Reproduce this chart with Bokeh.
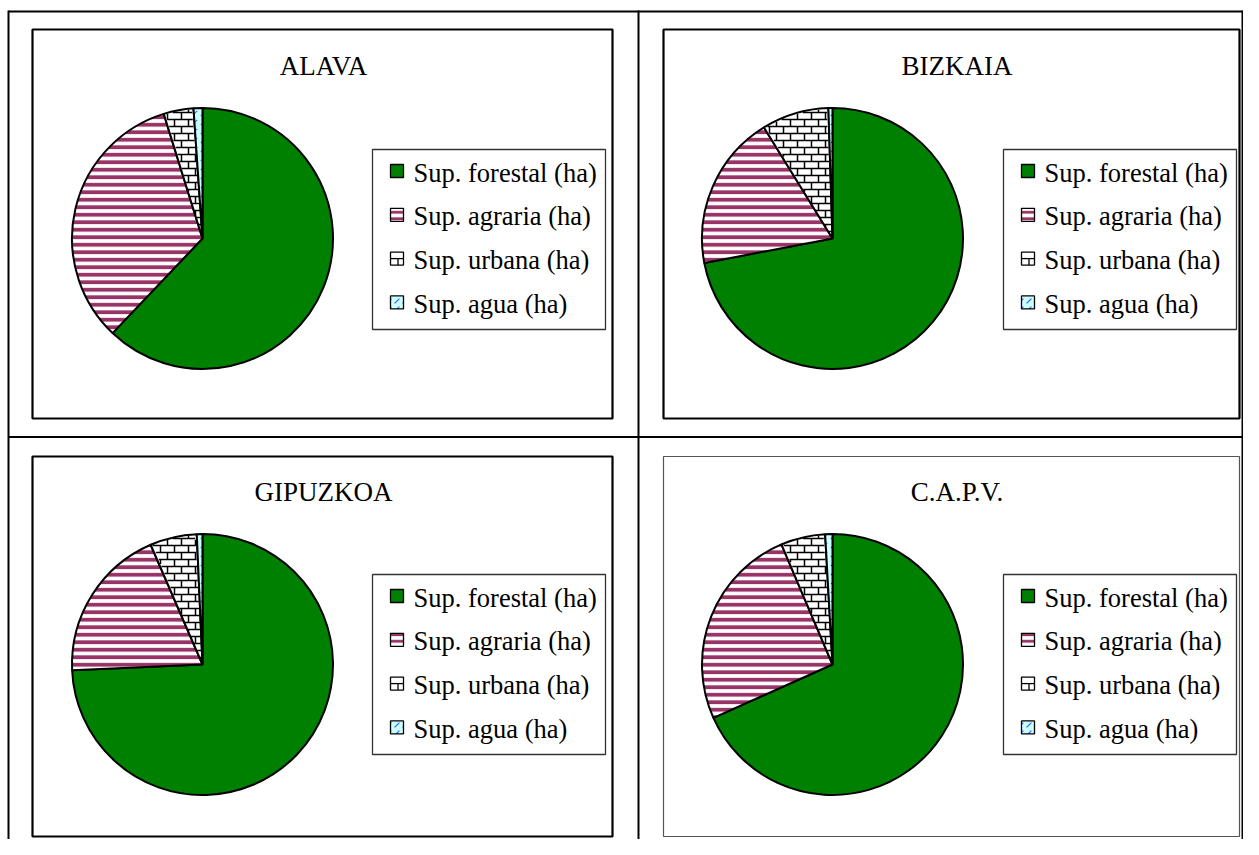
import math
from bokeh.plotting import figure
from bokeh.models import ColumnDataSource, Range1d
from bokeh.core.properties import value, field
from bokeh.embed import file_html
from bokeh.resources import INLINE

# ---------------- data (percent of surface) ----------------
regions = ["ALAVA", "BIZKAIA", "GIPUZKOA", "C.A.P.V."]
categories = ["Sup. forestal (ha)", "Sup. agraria (ha)", "Sup. urbana (ha)", "Sup. agua (ha)"]
forestal = [62.1, 72.0, 74.3, 68.3]
agraria = [33.1, 19.2, 19.2, 25.3]
urbana = [3.7, 8.3, 5.8, 5.5]
agua = [1.1, 0.5, 0.7, 0.9]

# ---------------- styles ----------------
FILLS = ["#008000", "#ffffff", "#ffffff", "#ccffff"]
HATCH = ["blank", "horizontal_line", "blank", "right_diagonal_dash"]
HCOL = ["#008000", "#993366", "#000000", "#3366ff"]
HSCALE = [8, 7.5, 8, 9]
HWEIGHT = [1, 3.8, 1, 1.2]
FONT = value("Liberation Serif")
R = 130.5
BRICK_H, BRICK_W = 7.0, 14.0
TEXT_SHIFT = 6  # svg baseline correction (px, upwards)

W, H = 1243, 839
p = figure(width=W, height=H, x_range=Range1d(0, W), y_range=Range1d(-H, 0),
           output_backend="svg", toolbar_location=None, min_border=0,
           x_axis_type=None, y_axis_type=None)
p.grid.visible = False
p.outline_line_color = None
p.background_fill_color = "white"

# outer table lines
p.segment(x0=[8, 8, 638, 8, 1242], y0=[-11, -10, -10, -436.5, -10],
          x1=[1243, 8, 638, 1243, 1242], y1=[-11, -839, -839, -436.5, -839],
          line_color="black", line_width=2)

values_by_cat = [forestal, agraria, urbana, agua]


def sector_runs(cx, cy, r, th_lo, th_hi, pts):
    """Return runs of consecutive sample points lying inside the sector."""
    runs, cur = [], []
    for (x, y) in pts:
        dx, dy = x - cx, y - cy
        d = math.hypot(dx, dy)
        th = math.atan2(dy, dx) % (2 * math.pi)
        inside = d <= r - 1.0 and th_lo + 0.012 <= th <= th_hi - 0.012
        if inside:
            cur.append((x, y))
        elif cur:
            runs.append(cur)
            cur = []
    if cur:
        runs.append(cur)
    return [(run[0], run[-1]) for run in runs if len(run) > 1]


for i, reg in enumerate(regions):
    col, row = i % 2, i // 2
    bl, br = [32, 663][col], [612, 1248][col]
    bt, bb = 29 + 427 * row, 418 + 428 * row
    br_draw = min(br, W - 4)
    bb_draw = min(bb, H - 3)
    if i == 3:
        p.quad(left=bl, right=br_draw, top=-bt, bottom=-bb_draw, fill_color=None,
               line_color="#555555", line_width=1.2)
    else:
        p.quad(left=bl, right=br_draw, top=-bt, bottom=-bb_draw, fill_color=None,
               line_color="black", line_width=2.2)

    # title
    p.text(x=[(bl + br) / 2 + 1], y=[-(71 + 426 * row) + TEXT_SHIFT], text=[reg], text_align="center",
           text_baseline="alphabetic", text_font=FONT, text_font_size="27px", text_color="black")

    # pie
    cx, cy = [202, 832][col], -(238 + 426 * row)
    vals = [v[i] for v in values_by_cat]
    tot = sum(vals)
    starts, ends, cums = [], [], [0.0]
    c = 0.0
    for v in vals:
        starts.append(math.pi / 2 - 2 * math.pi * c / tot)
        c += v
        cums.append(c / tot)
        ends.append(math.pi / 2 - 2 * math.pi * c / tot)
    src = ColumnDataSource(dict(x=[cx] * 4, y=[cy] * 4, start=starts, end=ends,
                                fill=FILLS, hatch=HATCH, hcol=HCOL, hscale=HSCALE, hweight=HWEIGHT))
    p.wedge(x="x", y="y", radius=R, start_angle="start", end_angle="end", direction="clock",
            source=src, fill_color=field("fill"), hatch_pattern=field("hatch"),
            hatch_color=field("hcol"), hatch_scale=field("hscale"), hatch_weight=field("hweight"),
            line_color="black", line_width=2)

    # brick pattern for the urban slice (computed from the slice's angles)
    th_lo = (math.pi / 2 + 2 * math.pi * (1 - cums[3])) % (2 * math.pi)
    th_hi = (math.pi / 2 + 2 * math.pi * (1 - cums[2])) % (2 * math.pi)
    xs0, ys0, xs1, ys1 = [], [], [], []
    nrows = int(R // BRICK_H) + 1
    for k in range(nrows + 1):
        yline = cy + k * BRICK_H
        pts = [(cx - R + 0.25 * s, yline) for s in range(int(2 * R / 0.25) + 1)]
        for (a, b) in sector_runs(cx, cy, R, th_lo, th_hi, pts):
            xs0.append(a[0]); ys0.append(a[1]); xs1.append(b[0]); ys1.append(b[1])
        off = (k % 2) * BRICK_W / 2
        for j in range(-int(R // BRICK_W) - 2, int(R // BRICK_W) + 2):
            xv = cx + off + j * BRICK_W
            pts = [(xv, yline + 0.25 * s) for s in range(int(BRICK_H / 0.25) + 1)]
            for (a, b) in sector_runs(cx, cy, R, th_lo, th_hi, pts):
                xs0.append(a[0]); ys0.append(a[1]); xs1.append(b[0]); ys1.append(b[1])
    p.segment(x0=xs0, y0=ys0, x1=xs1, y1=ys1, line_color="black", line_width=1.5)

    # legend
    ll = [372, 1003][col]
    lt = 149 + 425 * row
    p.quad(left=ll, right=ll + 233, top=-lt, bottom=-(lt + 180), fill_color="white",
           line_color="#333333", line_width=1.3)
    base = [lt + 29 + 43.8 * k for k in range(4)]
    sl, sr = ll + 18, ll + 31
    lsrc = ColumnDataSource(dict(left=[sl] * 4, right=[sr] * 4,
                                 top=[-(b - 14) for b in base], bottom=[-(b - 1) for b in base],
                                 fill=FILLS, hatch=HATCH, hcol=HCOL,
                                 hscale=[8, 6.5, 8, 8], hweight=[1, 2.8, 1, 1.2]))
    p.quad(left="left", right="right", top="top", bottom="bottom", source=lsrc,
           fill_color=field("fill"), hatch_pattern=field("hatch"), hatch_color=field("hcol"),
           hatch_scale=field("hscale"), hatch_weight=field("hweight"),
           line_color="black", line_width=1.3)
    ub = base[2]
    p.segment(x0=[sl, (sl + sr) / 2 + 1], y0=[-(ub - 7.5), -(ub - 7.5)],
              x1=[sr, (sl + sr) / 2 + 1], y1=[-(ub - 7.5), -(ub - 1)],
              line_color="black", line_width=1.3)
    p.text(x=[ll + 41] * 4, y=[-b + TEXT_SHIFT for b in base], text=categories, text_align="left",
           text_baseline="alphabetic", text_font=FONT, text_font_size="26.5px", text_color="black")

open("out.html", "w").write(file_html(p, INLINE))
